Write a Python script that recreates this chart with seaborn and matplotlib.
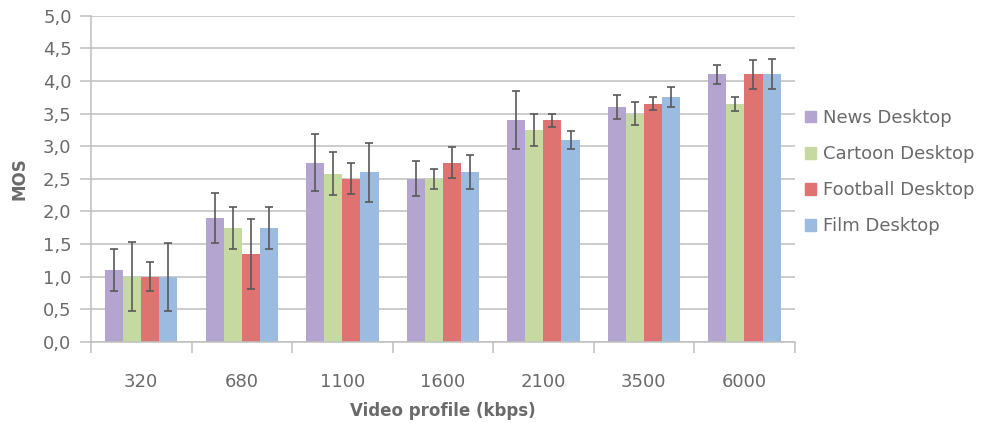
import numpy as np
import pandas as pd
import matplotlib
matplotlib.use('Agg')
import matplotlib.pyplot as plt
from matplotlib.ticker import FuncFormatter
import seaborn as sns

# data
profiles = ['320', '680', '1100', '1600', '2100', '3500', '6000']
series = ['News Desktop', 'Cartoon Desktop', 'Football Desktop', 'Film Desktop']

news_mos = [1.1, 1.9, 2.75, 2.5, 3.4, 3.6, 4.1]
cartoon_mos = [1.0, 1.75, 2.58, 2.5, 3.25, 3.5, 3.65]
football_mos = [1.0, 1.35, 2.5, 2.75, 3.4, 3.65, 4.1]
film_mos = [1.0, 1.75, 2.6, 2.6, 3.1, 3.75, 4.1]

news_err = [0.32, 0.38, 0.43, 0.27, 0.45, 0.18, 0.14]
cartoon_err = [0.53, 0.32, 0.33, 0.15, 0.24, 0.18, 0.11]
football_err = [0.22, 0.54, 0.24, 0.23, 0.10, 0.10, 0.22]
film_err = [0.52, 0.32, 0.45, 0.26, 0.14, 0.15, 0.23]

colors = ['#B3A5CF', '#C5D9A0', '#DE7372', '#9BBBE0']

mos = [news_mos, cartoon_mos, football_mos, film_mos]
errs = [news_err, cartoon_err, football_err, film_err]

df = pd.DataFrame({
    'profile': np.tile(profiles, len(series)),
    'series': np.repeat(series, len(profiles)),
    'mos': np.concatenate(mos),
})

sns.set_style("white")
plt.rcParams['font.family'] = ['DejaVu Sans']
grey = '#6A6A6A'

fig = plt.figure(figsize=(9.86, 4.23), dpi=100)
ax = fig.add_axes([0.0923, 0.1915, 0.7137, 0.7715])

sns.barplot(data=df, x='profile', y='mos', hue='series', order=profiles,
            hue_order=series, palette=colors, width=0.72, gap=0,
            errorbar=None, saturation=1, linewidth=0, legend=False, ax=ax)

# error bars on top of the seaborn bars
for cont, e in zip(ax.containers, errs):
    xs = [b.get_x() + b.get_width() / 2 for b in cont]
    ys = [b.get_height() for b in cont]
    ax.errorbar(xs, ys, yerr=e, fmt='none', ecolor='#595959', elinewidth=1.2,
                capsize=3, capthick=1.2, zorder=5)

ax.set_ylim(0, 5)
ax.set_xlim(-0.5, 6.5)
ax.set_yticks(np.arange(0, 5.01, 0.5))
ax.yaxis.set_major_formatter(FuncFormatter(lambda v, _: ('%.1f' % v).replace('.', ',')))
ax.set_xticks(np.arange(-0.5, 7, 1), minor=True)
ax.grid(axis='y', color='#BFBFBF', linewidth=1.1)
ax.set_axisbelow(True)

for s in ['top', 'right']:
    ax.spines[s].set_visible(False)
for s in ['left', 'bottom']:
    ax.spines[s].set_color('#BFBFBF')
    ax.spines[s].set_linewidth(1.1)

ax.tick_params(axis='y', which='major', length=8, width=1.1, color='#BFBFBF',
               labelsize=13, labelcolor=grey, pad=6, left=True)
ax.tick_params(axis='x', which='major', length=0, labelsize=13, labelcolor=grey, pad=22)
ax.tick_params(axis='x', which='minor', length=8, width=1.1, color='#BFBFBF', bottom=True)

ax.set_xlabel('Video profile (kbps)', fontsize=12, fontweight='bold', color=grey, labelpad=8)
ax.set_ylabel('MOS', fontsize=12, fontweight='bold', color=grey, labelpad=10)

handles = [plt.Rectangle((0, 0), 1, 1, color=c) for c in colors]
fig.legend(handles, series, loc='center left', bbox_to_anchor=(0.800, 0.593),
           frameon=False, fontsize=13, labelcolor=grey, handlelength=0.6,
           handleheight=0.6, handletextpad=0.4, labelspacing=1.0)

fig.savefig('out.png', dpi=100)
